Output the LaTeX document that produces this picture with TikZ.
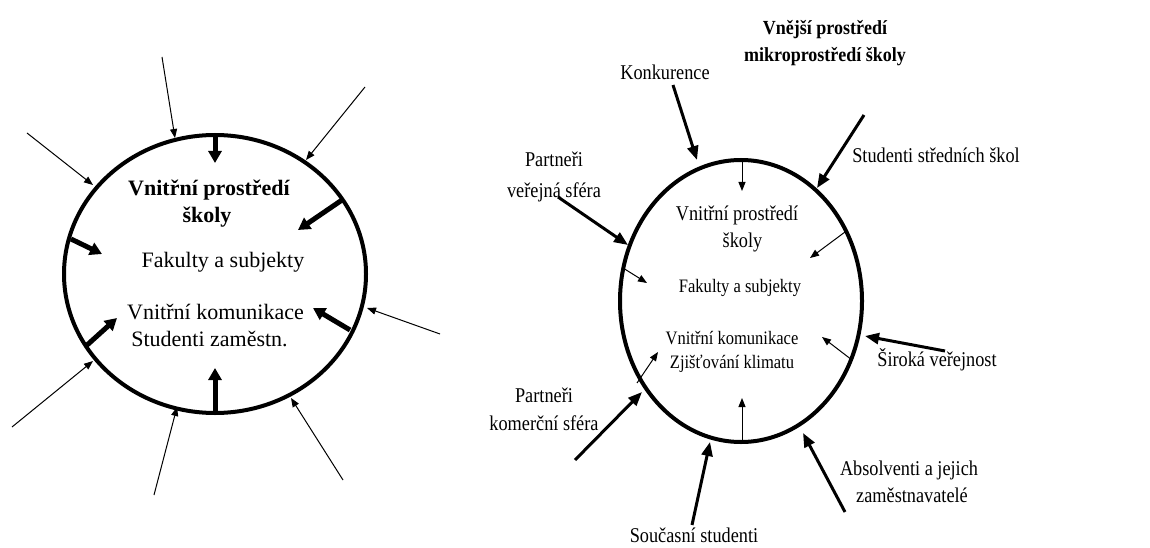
\documentclass[tikz,border=0pt]{standalone}
\usepackage{fontspec}
\setmainfont{Liberation Serif}
\newfontfamily\nserif[FakeStretch=0.87]{Liberation Serif}
\newfontfamily\tserif[FakeStretch=0.9]{Liberation Serif}
\usetikzlibrary{arrows.meta,shapes.geometric}
\tikzset{
  ring/.style={draw, ellipse, line width=4pt, inner sep=0pt},
  txt/.style={inner sep=0pt, anchor=base},
  lfont/.style={font=\fontsize{22}{26}\selectfont},
  lbold/.style={font=\bfseries\fontsize{22}{26}\selectfont},
  rtitle/.style={font=\tserif\bfseries\fontsize{20}{24}\selectfont},
  rbig/.style={font=\nserif\fontsize{21}{25}\selectfont},
  rsmall/.style={font=\nserif\fontsize{19}{23}\selectfont},
  thinarr/.style={line width=1pt, -{Triangle[length=9pt,width=7pt]}},
  fatarr/.style={line width=5pt, -{Triangle[length=12pt,width=13pt]}},
  outarr/.style={line width=3pt, -{Triangle[length=14pt,width=11pt]}}
}
\begin{document}
\begin{tikzpicture}[x=1pt,y=-1pt]
\useasboundingbox (0,0) rectangle (1150,548);

% ---------- left circle ----------
\node[ring, minimum width=302pt, minimum height=278pt] (L) at (215,274) {};

\node[txt, lbold] (lt1) at (209,195) {Vnitřní prostředí};
\node[txt, lbold] (lt2) at (207,222) {školy};
\node[txt, lfont] (lf) at (223,267) {Fakulty a subjekty};
\node[txt, lfont] (lk) at (215.5,319) {Vnitřní komunikace};
\node[txt, lfont] (ls) at (209.5,346) {Studenti zaměstn.};

% outer thin arrows
\coordinate (o1s) at (27,133);  \coordinate (o1e) at (93,185);
\coordinate (o2s) at (162,57);  \coordinate (o2e) at (175,138);
\coordinate (o3s) at (365,87);  \coordinate (o3e) at (306,160);
\coordinate (o4s) at (440,334); \coordinate (o4e) at (367,308);
\coordinate (o5s) at (343,480); \coordinate (o5e) at (291,398);
\coordinate (o6s) at (154,495); \coordinate (o6e) at (177,407);
\coordinate (o7s) at (12,427);  \coordinate (o7e) at (93,361);
\foreach \i in {1,...,7} {\draw[thinarr] (o\i s) -- (o\i e);}

% inner thick arrows
\coordinate (f1s) at (215,134); \coordinate (f1e) at (215,163);
\coordinate (f2s) at (342,200); \coordinate (f2e) at (298,230);
\coordinate (f3s) at (71,239);  \coordinate (f3e) at (102,254);
\coordinate (f4s) at (350,330); \coordinate (f4e) at (313,308);
\coordinate (f5s) at (215,413); \coordinate (f5e) at (215,368);
\coordinate (f6s) at (86,346);  \coordinate (f6e) at (117,318);
\foreach \i in {1,...,6} {\draw[fatarr] (f\i s) -- (f\i e);}

% ---------- right circle ----------
\node[ring, minimum width=242pt, minimum height=282pt] (R) at (741,301) {};

\node[txt, rtitle] (rt1) at (825,35) {Vnější prostředí};
\node[txt, rtitle] (rt2) at (825,62) {mikroprostředí školy};

\node[txt, rbig] (ri1) at (737,220) {Vnitřní prostředí};
\node[txt, rbig] (ri2) at (742.5,247) {školy};
\node[txt, rsmall] (ri3) at (740,292) {Fakulty a subjekty};
\node[txt, rsmall] (ri4) at (732,344) {Vnitřní komunikace};
\node[txt, rsmall] (ri5) at (732,368) {Zjišťování klimatu};

\node[txt, rbig] (k) at (665,80) {Konkurence};
\node[txt, rbig] (sss) at (936,163) {Studenti středních škol};
\node[txt, rbig] (pv1) at (554,167) {Partneři};
\node[txt, rbig] (pv2) at (554,197) {veřejná sféra};
\node[txt, rbig] (sv) at (937,366) {Široká veřejnost};
\node[txt, rbig] (pk1) at (544,402) {Partneři};
\node[txt, rbig] (pk2) at (544,430) {komerční sféra};
\node[txt, rbig] (ab1) at (909,475) {Absolventi a jejich};
\node[txt, rbig] (ab2) at (912,502) {zaměstnavatelé};
\node[txt, rbig] (ss) at (694,542) {Současní studenti};

% outer thick arrows
\coordinate (r1s) at (673,85);  \coordinate (r1e) at (697,160);
\coordinate (r2s) at (864,115); \coordinate (r2e) at (817,188);
\coordinate (r3s) at (558,197); \coordinate (r3e) at (628,245);
\coordinate (r4s) at (945,351); \coordinate (r4e) at (865,336);
\coordinate (r5s) at (575,460); \coordinate (r5e) at (642,392);
\coordinate (r6s) at (845,512); \coordinate (r6e) at (803,433);
\coordinate (r7s) at (692,525); \coordinate (r7e) at (710,442);
\foreach \i in {1,...,7} {\draw[outarr] (r\i s) -- (r\i e);}

% inner thin arrows
\coordinate (t1s) at (742,160); \coordinate (t1e) at (742,191);
\coordinate (t2s) at (845,232); \coordinate (t2e) at (810,258);
\coordinate (t3s) at (623,268); \coordinate (t3e) at (647,283);
\coordinate (t4s) at (852,360); \coordinate (t4e) at (822,337);
\coordinate (t5s) at (637,383); \coordinate (t5e) at (658,352);
\coordinate (t6s) at (742,443); \coordinate (t6e) at (742,398);
\foreach \i in {1,...,6} {\draw[thinarr] (t\i s) -- (t\i e);}
\end{tikzpicture}
\end{document}
